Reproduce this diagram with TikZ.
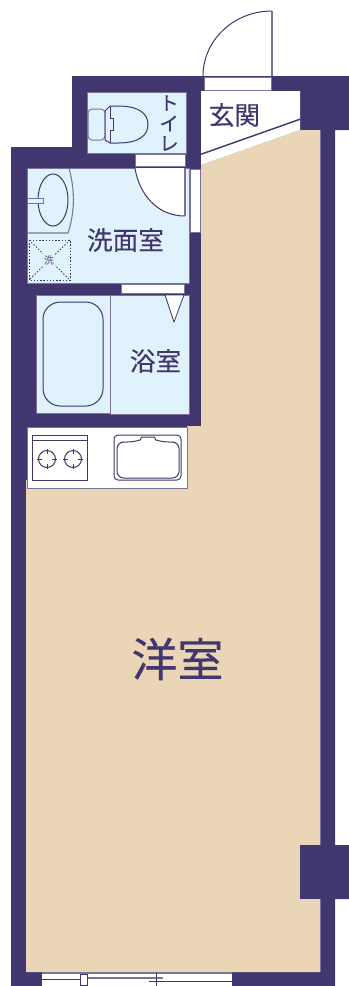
\documentclass[tikz,border=0pt]{standalone}
\usepackage{fontspec}
\setmainfont[FakeBold=0.3]{Noto Sans CJK JP}
\definecolor{wallc}{HTML}{41376E}
\definecolor{linec}{HTML}{7B729E}
\definecolor{beigec}{HTML}{EAD5B7}
\definecolor{bluec}{HTML}{E0F2FB}
\tikzset{
  x=0.75pt,y=-0.75pt,
  wall/.style={fill=wallc,draw=none},
  room/.style={fill=bluec,draw=linec,line width=0.6pt},
  opening/.style={fill=white,draw=linec,line width=0.6pt},
  fixture/.style={draw=wallc,line width=0.75pt},
  softline/.style={draw=linec,line width=0.8pt},
  dots/.style={draw=wallc,line width=0.7pt,dash pattern=on 1pt off 1.4pt},
  label/.style={text=wallc,inner sep=0pt,font=\fontsize{19.2}{20}\selectfont},
}
\begin{document}
\begin{tikzpicture}
\useasboundingbox (0,0) rectangle (349,986);
% walls
\path[wall] (11,147) -- (72,147) -- (72,76) -- (349,76) -- (349,130) -- (335,130) -- (335,845) -- (349,845) -- (349,899) -- (335,899) -- (335,986) -- (11,986) -- cycle;
% western room
\path[fill=beigec] (201,165) -- (300,130) -- (320,130) -- (320,972) -- (26,972) -- (26,480) -- (187,480) -- (187,426) -- (201,426) -- cycle;
\draw[softline,line width=0.5pt] (320,130) -- (320,845) (320,899) -- (320,972);
\path[wall] (300,845) rectangle (335,899);
% entry
\path[fill=white] (201,91) -- (300,91) -- (300,130) -- (201,165) -- cycle;
\path[fill=wallc] (201,153.5) -- (300,118.5) -- (300,120) -- (201,155) -- cycle;
% entry door
\draw[opening] (204,77) rectangle (271,90);
\draw[fixture] (203,76) .. controls (203,40) and (234,11) .. (272,11);
\draw[softline] (272,76) -- (272,11);
% toilet
\draw[room] (87,92) rectangle (186,153);
\draw[fixture,draw=linec,fill=bluec,rounded corners=3pt] (88,109) rectangle (105,140);
\draw[fixture,fill=bluec] (105,111) -- (105,140) -- (110,143) -- (118,143) .. controls (138,143) and (148,136) .. (148,124.5) .. controls (148,113) and (138,106) .. (118,106) -- (110,106) -- cycle;
\draw[fixture] (110,106) -- (110,118) -- (113,118) -- (113,130) -- (110,130) -- (110,143);
% washroom
\draw[room] (27,168) rectangle (189,283);
\draw[opening] (135,154) rectangle (185,166);
\path[fill=white] (135,168) .. controls (139,194) and (157,216) .. (185,216) -- (185,168) -- cycle;
\draw[fixture] (135,168) .. controls (139,194) and (157,216) .. (185,216);
\draw[softline] (185,168) -- (185,216);
\draw[opening] (190,169) rectangle (200,232);
\draw[softline] (27,233) -- (68,233) .. controls (75,212) and (75,190) .. (69,168);
\draw[fixture] (53,200) ellipse[x radius=15,y radius=26];
\draw[softline,line width=0.6pt,fill=bluec] (27,198) rectangle (43,203);
\draw[dots] (29,240) rectangle (70,280);
\draw[dots] (29,240) -- (70,280) (70,240) -- (29,280);
\fill[bluec] (43,253) rectangle (55,267);
\node[text=linec,inner sep=0pt,font=\fontsize{7.5}{8}\selectfont] (wash) at (49,260) {洗};
% bathroom
\draw[room] (36,295) rectangle (110,413);
\draw[room] (110,295) rectangle (189,414);
\draw[fixture,fill=bluec,rounded corners=13pt] (43,302) rectangle (103,406);
\draw[opening] (121,284) rectangle (184,293);
\draw[opening,draw=wallc] (165,295) -- (184,295) -- (174,322) -- cycle;
% kitchen
\draw[fill=white,draw=linec,line width=0.6pt] (27,427) rectangle (187,488.5);
\draw[fixture] (32,435) rectangle (87,480);
\draw[fixture] (32,440) -- (87,440);
\foreach \cx in {47,73}{
  \draw[fixture] (\cx-10,459) -- (\cx+10,459) (\cx,449) -- (\cx,469);
  \fill[white] (\cx-5,454) rectangle (\cx+5,464);
  \draw[fixture] (\cx,459) circle[radius=8.5];
}
\draw[fixture,rounded corners=3pt] (114,435) rectangle (181,480);
\draw[fixture,rounded corners=5pt] (117,442) -- (134,442) .. controls (140,440) and (142,437) .. (148,437) .. controls (154,437) and (156,440) .. (162,442) -- (179,442) -- (179,478) -- (117,478) -- cycle;
% balcony window
\path[fill=white] (42,973) rectangle (232,986);
\draw[softline] (42,973) -- (232,973);
\draw[fixture] (42,979) -- (80,979);
\draw[softline] (87,978) -- (163,978);
\draw[fixture] (156,973) -- (156,986);
\draw[fixture] (149,981.5) -- (232,981.5);
\draw[fixture,fill=white] (80,974) rectangle (87,985);
% labels
\node[label,font=\fontsize{14.4}{15}\selectfont] (t1) at (169,103) {ト};
\node[label,font=\fontsize{14.4}{15}\selectfont] (t2) at (169,123.5) {イ};
\node[label,font=\fontsize{14.4}{15}\selectfont] (t3) at (169,143.5) {レ};
\node[label] (genkan) at (234.5,115) {玄関};
\node[label] (senmen) at (125.5,240) {洗面室};
\node[label] (yoku) at (155.5,361) {浴室};
\node[label,font=\fontsize{34.5}{35}\selectfont] (yoshitsu) at (177.5,659) {洋室};
\end{tikzpicture}
\end{document}
